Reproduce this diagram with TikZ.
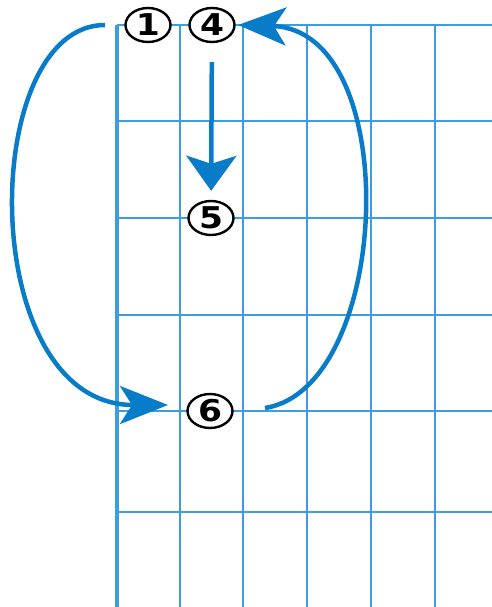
\documentclass[tikz,border=0pt]{standalone}
\usepackage{fontspec}
\setmainfont{DejaVu Sans}
\usetikzlibrary{arrows.meta,shapes.geometric}
\definecolor{gridblue}{RGB}{60,158,222}
\definecolor{arrowblue}{RGB}{8,124,200}
\begin{document}
\begin{tikzpicture}[x=1pt,y=-1pt,
  gridline/.style={gridblue,line width=2.5pt},
  numcirc/.style={ellipse,draw=black,line width=2.4pt,fill=white,inner sep=0pt,
    minimum width=45pt,minimum height=34pt,
    font=\fontsize{30}{30}\selectfont\bfseries},
  flow/.style={arrowblue,line width=4.5pt},
  harrow/.style={-{Stealth[length=48pt,width=38pt,inset=12pt]}},
  varrow/.style={-{Stealth[length=35pt,width=50pt,inset=8pt]}}]
\useasboundingbox (0,0) rectangle (492,607);
\begin{scope}
\clip (0,0) rectangle (492,607);
% grid
\foreach \x in {180,243,307,371,435} \draw[gridline] (\x,25) -- (\x,607);
\draw[gridblue,line width=4pt] (117,25) -- (117,607);
\foreach \y in {25,121,218,315,411,512} \draw[gridline] (117,\y) -- (492,\y);
\end{scope}
% numbered circles
\node[numcirc] (n1) at (148,25) {\scalebox{1.15}[1]{1}};
\node[numcirc] (n4) at (212,25) {\scalebox{1.15}[1]{4}};
\node[numcirc] (n5) at (211,218) {\scalebox{1.15}[1]{5}};
\node[numcirc] (n6) at (210,411) {\scalebox{1.15}[1]{6}};
% free ends
\coordinate (s1) at (105,25);
\coordinate (e6) at (168,405);
\coordinate (s6) at (265,408);
\coordinate (e4) at (238,25);
% arrows
\draw[flow,varrow,shorten <=19pt,shorten >=9pt] (n4) -- (n5);
\draw[flow,harrow] (s1) .. controls (-22,25) and (-25,405) .. (e6);
\draw[flow,harrow] (s6) .. controls (392,388) and (405,30) .. (e4);
\end{tikzpicture}
\end{document}
